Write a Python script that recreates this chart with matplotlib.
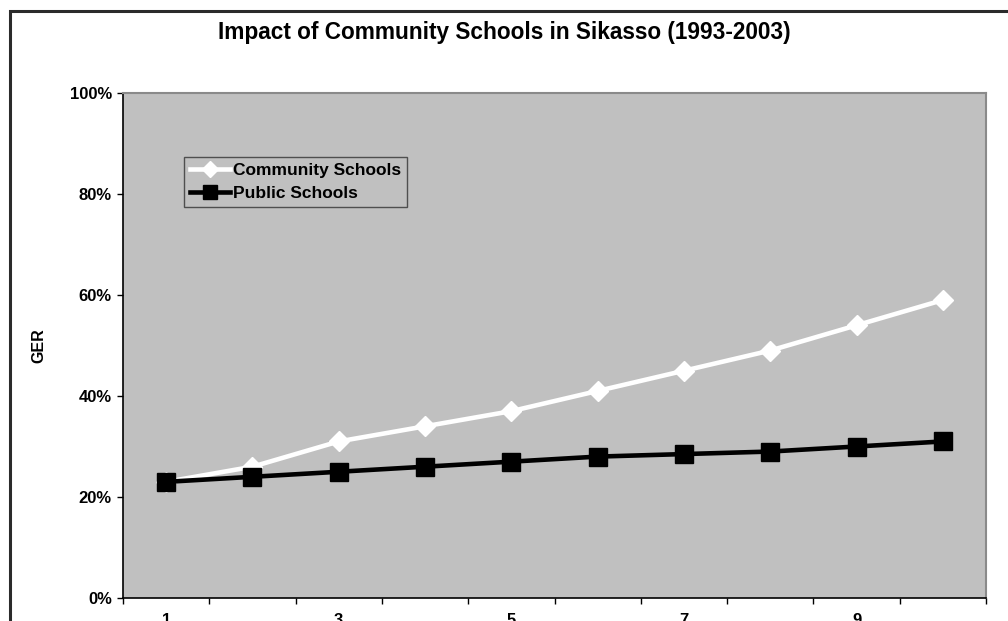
import matplotlib
matplotlib.use("Agg")
import matplotlib.pyplot as plt
from matplotlib.patches import Rectangle

plt.rcParams['font.family'] = ['Liberation Sans', 'DejaVu Sans']
plt.rcParams['font.weight'] = 'bold'

categories = [1, 2, 3, 4, 5, 6, 7, 8, 9, 10]
community = [23, 26, 31, 34, 37, 41, 45, 49, 54, 59]
public = [23, 24, 25, 26, 27, 28, 28.5, 29, 30, 31]
ytick_vals = [0, 20, 40, 60, 80, 100]
ytick_labels = ['0%', '20%', '40%', '60%', '80%', '100%']
xtick_labels = ['1', '3', '5', '7', '9']

W, H = 1008, 621
fig = plt.figure(figsize=(W / 100, H / 100), dpi=100)
ax = fig.add_axes([123 / W, (H - 598) / H, (986 - 123) / W, (598 - 93) / H])
ax.set_facecolor('#C0C0C0')

ax.plot(categories, community, color='white', lw=3.3, marker='D', ms=10.5,
        mfc='white', mec='white', label='Community Schools', zorder=3)
ax.plot(categories, public, color='black', lw=3.3, marker='s', ms=12.5,
        mfc='black', mec='black', label='Public Schools', zorder=4)

ax.set_xlim(0.5, 10.5)
ax.set_ylim(0, 100)
ax.set_yticks(ytick_vals)
ax.set_yticklabels(ytick_labels, fontsize=12, fontweight='bold')
ax.tick_params(axis='y', direction='out', length=4, width=1, pad=4)

bounds = [c - 0.5 for c in categories] + [categories[-1] + 0.5]
ax.set_xticks(bounds)
ax.set_xticklabels([''] * len(bounds))
ax.tick_params(axis='x', which='major', direction='out', length=4, width=1)
ax.set_xticks(categories[::2], minor=True)
ax.set_xticklabels(xtick_labels, minor=True, fontsize=12, fontweight='bold')
ax.tick_params(axis='x', which='minor', length=0, pad=11)

for s in ['left', 'bottom']:
    ax.spines[s].set_color('black')
    ax.spines[s].set_linewidth(1.2)
for s in ['top', 'right']:
    ax.spines[s].set_color('#8a8a8a')
    ax.spines[s].set_linewidth(1.5)

ax.set_ylabel('GER', fontsize=11.5, fontweight='bold')
ax.yaxis.set_label_coords((46 - 123) / (986 - 123), 0.5)

leg = ax.legend(loc='upper left', bbox_to_anchor=((184 - 123) / (986 - 123), 1 - (157 - 93) / (598 - 93)),
                frameon=True, fancybox=False, handlelength=2.3, markerscale=0.8,
                borderpad=0.35, labelspacing=0.45, handletextpad=0.15, borderaxespad=0,
                prop={'weight': 'bold', 'size': 12.5})
leg.get_frame().set_facecolor('#C0C0C0')
leg.get_frame().set_edgecolor('#333333')
leg.get_frame().set_linewidth(1)

fig.text(504 / W, 1 - 33 / H, 'Impact of Community Schools in Sikasso (1993-2003)',
         ha='center', va='center', fontsize=16.3, fontweight='bold')

fig.patches.append(Rectangle((10 / W, -0.1), 1.2, 1 + 0.1 - 11 / H, transform=fig.transFigure,
                             fill=False, edgecolor='#2b2b2b', linewidth=2.2, zorder=10))

fig.savefig('out.png', dpi=100)
